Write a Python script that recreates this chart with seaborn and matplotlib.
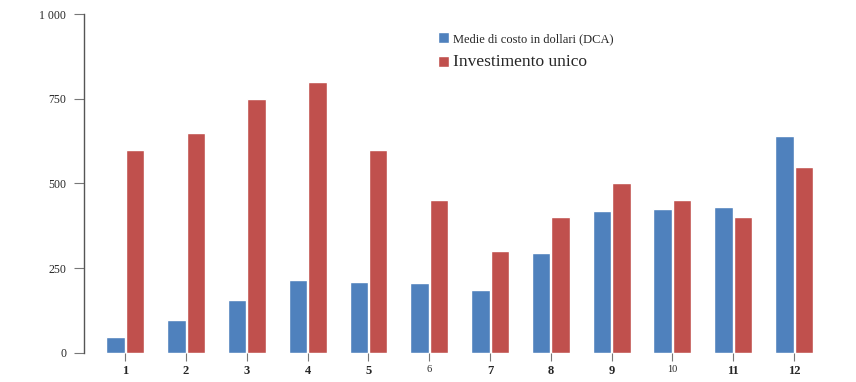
import pandas as pd
import seaborn as sns
import matplotlib.pyplot as plt

# Values
months = ["1", "2", "3", "4", "5", "6", "7", "8", "9", "10", "11", "12"]
dca = [47, 97, 155, 215, 208, 205, 185, 295, 420, 425, 430, 640]
lump_sum = [600, 650, 750, 800, 600, 450, 300, 400, 500, 450, 400, 550]
series_names = ["Medie di costo in dollari (DCA)", "Investimento unico"]
y_ticks = [0, 250, 500, 750, 1000]
y_tick_labels = ["0", "250", "500", "750", "1 000"]

df = pd.DataFrame({
    "Mese": months * 2,
    "Valore": dca + lump_sum,
    "Strategia": [series_names[0]] * len(months) + [series_names[1]] * len(months),
})

sns.set_style("white")
plt.rcParams["font.family"] = ["Liberation Serif", "DejaVu Serif"]

fig = plt.figure(figsize=(8.56, 3.82), dpi=100)
ax = fig.add_axes([0.0985, 0.0767, 0.877, 0.886])

sns.barplot(data=df, x="Mese", y="Valore", hue="Strategia",
            palette=["#4F81BD", "#C0504D"], width=0.64, gap=0.05,
            saturation=1, ax=ax)

ax.set_xlim(-0.674, 11.674)
ax.set_ylim(0, 1000)
ax.set_yticks(y_ticks)
ax.set_yticklabels(y_tick_labels)
ax.set_xlabel("")
ax.set_ylabel("")

for side in ["top", "right", "bottom"]:
    ax.spines[side].set_visible(False)
ax.spines["left"].set_color("#555555")
ax.spines["left"].set_linewidth(1)

ax.tick_params(axis="y", length=7, width=0.8, color="#777777", labelsize=8.5,
               pad=6, left=True)
ax.tick_params(axis="x", length=6, width=0.8, color="#777777", labelsize=9,
               pad=3, bottom=True)
for lbl in ax.get_xticklabels():
    if lbl.get_text() in ("6", "10"):
        lbl.set_fontsize(7.5)
    else:
        lbl.set_fontweight("bold")

handles, labels = ax.get_legend_handles_labels()
ax.legend_.remove()
leg = fig.legend(handles, labels, loc="upper left",
                 bbox_to_anchor=(0.505, 0.93), frameon=False,
                 handlelength=0.8, handleheight=0.8, handletextpad=0.3,
                 labelspacing=0.65, borderaxespad=0)
leg.get_texts()[0].set_fontsize(9)
leg.get_texts()[1].set_fontsize(12.5)

fig.savefig("out.png", dpi=100)
plt.close(fig)
